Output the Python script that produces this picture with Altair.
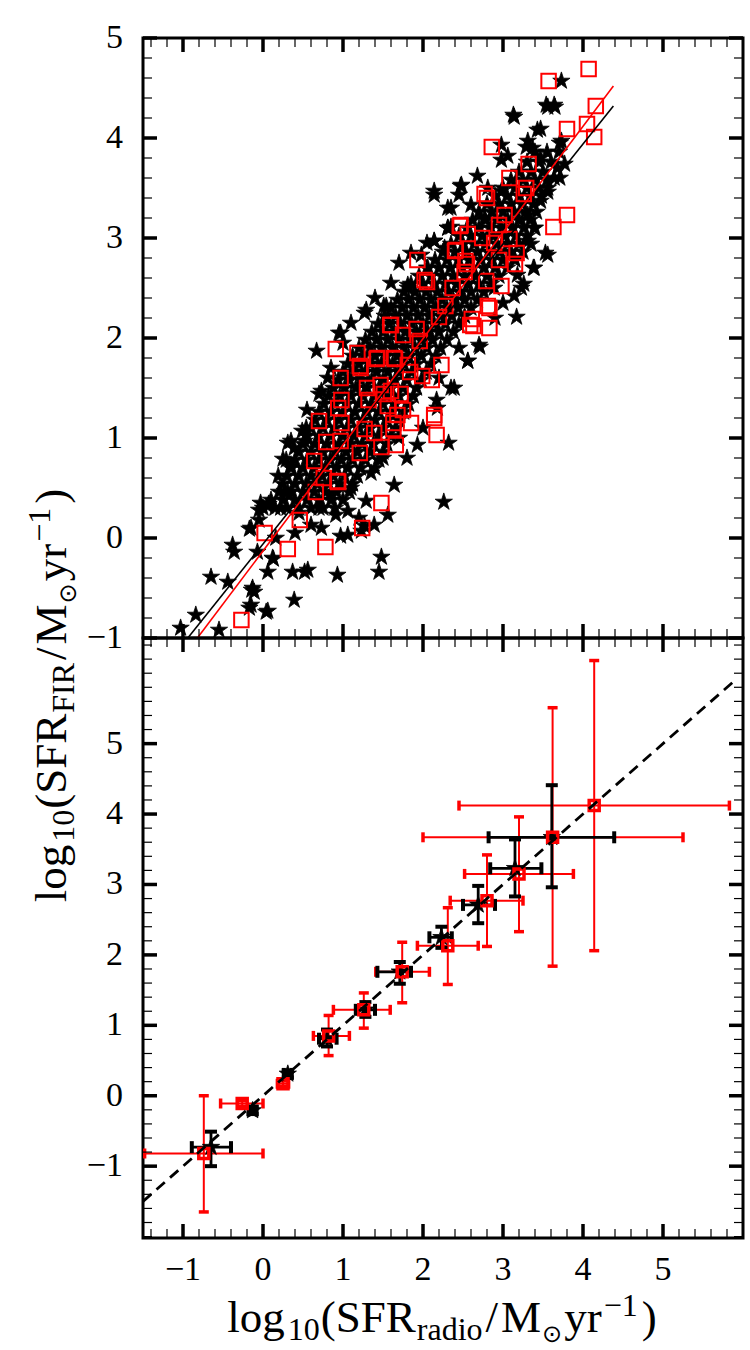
import altair as alt
import pandas as pd
import numpy as np

# ======================= TOP PANEL DATA =======================
# dense core of the star cloud, read row by row (y level : x positions)
core_y = [0.30, 0.38, 0.46, 0.54, 0.62, 0.70, 0.78, 0.86, 0.94, 1.02, 1.10, 1.18, 1.26, 1.34,
          1.42, 1.50, 1.58, 1.66, 1.74, 1.82, 1.90, 1.98, 2.06, 2.14, 2.22, 2.30, 2.38, 2.46,
          2.54, 2.62, 2.70, 2.78, 2.86, 2.94, 3.02, 3.10, 3.18, 3.26, 3.34, 3.42, 3.50, 3.58,
          3.66, 3.76, 3.86]
core_x = [
    [0.15, 0.30, 0.45, 0.60, 0.75, 0.90],
    [0.10, 0.25, 0.40, 0.55, 0.70, 0.85, 1.00],
    [0.20, 0.35, 0.50, 0.64, 0.78, 0.92, 1.08],
    [0.25, 0.40, 0.54, 0.68, 0.82, 0.96, 1.12],
    [0.30, 0.45, 0.60, 0.74, 0.88, 1.02, 1.18],
    [0.35, 0.50, 0.64, 0.78, 0.92, 1.06, 1.22, 1.40],
    [0.40, 0.55, 0.70, 0.84, 0.98, 1.12, 1.28, 1.45],
    [0.45, 0.60, 0.75, 0.90, 1.04, 1.18, 1.34, 1.50],
    [0.50, 0.65, 0.80, 0.95, 1.10, 1.24, 1.38, 1.55],
    [0.55, 0.70, 0.85, 1.00, 1.14, 1.28, 1.44, 1.60],
    [0.60, 0.75, 0.90, 1.05, 1.20, 1.34, 1.50, 1.66],
    [0.65, 0.80, 0.95, 1.10, 1.25, 1.40, 1.55, 1.70],
    [0.70, 0.85, 1.00, 1.15, 1.30, 1.45, 1.60, 1.76],
    [0.76, 0.90, 1.05, 1.20, 1.35, 1.50, 1.65, 1.82],
    [0.82, 0.96, 1.10, 1.25, 1.40, 1.55, 1.70, 1.88],
    [0.88, 1.02, 1.16, 1.30, 1.45, 1.60, 1.75, 1.92],
    [0.94, 1.08, 1.22, 1.36, 1.50, 1.65, 1.80, 1.98],
    [1.00, 1.14, 1.28, 1.42, 1.56, 1.70, 1.86, 2.04],
    [1.06, 1.20, 1.34, 1.48, 1.62, 1.76, 1.92, 2.10],
    [1.12, 1.26, 1.40, 1.54, 1.68, 1.82, 1.98, 2.16],
    [1.20, 1.34, 1.48, 1.62, 1.76, 1.90, 2.05, 2.22],
    [1.28, 1.42, 1.56, 1.70, 1.84, 1.98, 2.12, 2.30],
    [1.36, 1.50, 1.64, 1.78, 1.92, 2.06, 2.20, 2.38],
    [1.44, 1.58, 1.72, 1.86, 2.00, 2.14, 2.28, 2.45],
    [1.52, 1.66, 1.80, 1.94, 2.08, 2.22, 2.36, 2.52],
    [1.60, 1.74, 1.88, 2.02, 2.16, 2.30, 2.44, 2.60],
    [1.68, 1.82, 1.96, 2.10, 2.24, 2.38, 2.52, 2.68],
    [1.76, 1.90, 2.04, 2.18, 2.32, 2.46, 2.60, 2.76],
    [1.85, 2.00, 2.14, 2.28, 2.42, 2.56, 2.70, 2.85],
    [1.95, 2.10, 2.24, 2.38, 2.52, 2.66, 2.80, 2.95],
    [2.05, 2.20, 2.34, 2.48, 2.62, 2.76, 2.90, 3.05],
    [2.15, 2.30, 2.44, 2.58, 2.72, 2.86, 3.00, 3.15],
    [2.25, 2.40, 2.54, 2.68, 2.82, 2.96, 3.10, 3.25],
    [2.35, 2.50, 2.64, 2.78, 2.92, 3.06, 3.20, 3.35],
    [2.45, 2.60, 2.74, 2.88, 3.02, 3.16, 3.30],
    [2.55, 2.70, 2.84, 2.98, 3.12, 3.26, 3.40],
    [2.62, 2.78, 2.92, 3.06, 3.20, 3.34],
    [2.70, 2.86, 3.00, 3.14, 3.28, 3.42],
    [2.80, 2.95, 3.10, 3.24, 3.38],
    [2.90, 3.05, 3.20, 3.34, 3.48],
    [3.00, 3.15, 3.30, 3.45],
    [3.10, 3.25, 3.40, 3.55],
    [3.20, 3.35, 3.50],
    [3.30, 3.45, 3.60],
    [3.40, 3.55, 3.70],
]
# scattered stars around the core
edge_x = [-1.03, -0.84, -0.55, -0.65, -0.44, -0.38, -0.36, -0.13, -0.11, -0.15, 0.06, 0.39, 0.06,
          0.12, 0.37, 0.52, 0.56, 0.93, 1.45, 1.48, -0.07, -0.15, -0.03, 0.06, 0.00, 0.27, 0.22,
          0.35, 0.29, 0.35, 0.52, 0.54, 0.39, 0.97, 1.06, 1.27, 1.39, 1.56, 1.64, 1.29, 1.06, 0.91,
          0.73, 0.60, 0.16, 1.23, 2.26, 2.32, -0.17, 0.04, -0.14, -0.17, -0.05, 0.13, 0.40, 0.45,
          0.70, 0.85, 1.10, 1.35, 1.50, 1.20,
          0.67, 0.97, 1.27, 1.51, 0.70, 0.55, 0.49, 0.31, 0.25, 0.19, 0.31, 0.07, -0.05, 1.00,
          1.10, 0.85, 1.40, 1.60, 1.70, 1.85, 0.95, 1.29, 1.54, 1.81, 2.14, 2.31, 2.14, 2.35, 2.56,
          2.70, 2.39, 2.18, 0.81, 0.73,
          2.71, 2.56, 2.35, 2.17, 1.93, 3.53, 3.38, 3.26, 3.14, 3.17, 2.00, 2.20, 2.45, 2.90, 3.00,
          1.80, 1.70,
          3.73, 3.54, 3.64, 3.13, 3.43, 3.31, 3.37, 3.73, 2.98, 3.06, 3.47, 3.68, 2.68, 2.48, 2.14,
          2.45, 2.81, 2.98, 3.56, 3.64, 2.31, 2.60, 2.77, 3.31, 3.47, 2.31, 2.14, 2.27, 3.39, 3.31,
          3.56, 3.39, 3.18, 3.14, 1.98, 2.06, 1.81, 3.23, 2.89, 3.56, 3.65, 3.14, 3.47, 3.71, 3.29,
          2.98, 3.77, 3.71, 3.56, 2.05, 2.35, 2.47]
edge_y = [-0.90, -0.77, -0.92, -0.39, -0.44, -0.07, -0.14, -0.50, -0.54, -0.67, -0.73, -0.62, -0.34,
          -0.20, -0.34, -0.34, -0.32, -0.37, -0.34, -0.19, -0.14, 0.10, 0.35, 0.32, 0.30, 0.47, 0.30,
          0.72, 0.78, 0.97, 0.97, 1.10, 0.90, 0.02, 0.03, 0.12, 0.13, 0.23, 0.53, 0.37, 0.27, 0.23,
          0.10, 0.13, 0.00, 0.07, 0.36, 0.95, -0.70, -0.74, -0.52, 0.09, 0.18, -0.21, 0.05, 0.25,
          0.30, 0.45, 0.50, 0.65, 0.80, 0.20,
          1.87, 2.05, 2.25, 2.32, 1.44, 1.28, 1.07, 0.95, 0.79, 0.62, 0.46, 0.34, 0.28, 1.95,
          2.15, 1.70, 2.40, 2.55, 2.75, 2.85, 2.05, 2.28, 2.32, 2.53, 2.97, 3.10, 3.43, 3.30, 1.77,
          1.93, 1.50, 1.30, 1.60, 1.47,
          1.91, 1.77, 1.50, 1.38, 0.93, 2.85, 2.70, 2.54, 2.42, 2.21, 1.10, 1.60, 1.90, 2.20, 2.35,
          0.80, 1.00,
          4.57, 4.33, 4.33, 4.23, 4.08, 3.97, 3.90, 3.97, 3.93, 3.82, 3.80, 3.70, 3.62, 3.53, 3.47,
          3.43, 3.50, 3.47, 3.50, 3.60, 3.30, 3.33, 3.20, 3.23, 3.37, 3.10, 2.97, 2.90, 3.10, 2.97,
          2.83, 2.70, 2.63, 2.80, 2.83, 2.70, 2.50, 2.50, 2.50, 4.31, 4.31, 4.21, 4.09, 3.95, 3.91,
          3.78, 3.74, 3.60, 3.46, 2.95, 3.11, 3.52]
# red open squares
sq_x = [4.07, 3.57, 4.16, 3.80, 4.05, 4.14, 2.86, 3.32, 3.08, 3.29, 2.77, 2.80, 3.26, 3.80, 3.63,
        3.02, 2.46, 2.56, 2.95, 2.74, 2.89, 3.08, 3.17, 3.15, 2.95, 2.40, 1.93, 2.55, 2.52, 2.02,
        2.05, 2.79, 2.37, 2.98, 2.28, 2.20, 2.83, 2.61, 2.63, 2.83, 1.59, 1.92, 1.75, 1.96, 0.91,
        1.18, 2.23, 1.42, 1.21, 1.65, 1.84, 1.99, 2.11, 0.97, 1.30, 1.51, 1.72, 0.98, 1.32, 0.94,
        1.56, 1.75, 2.14, 0.70, 0.98, 1.63, 1.85, 1.27, 1.63, 2.17, 0.79, 0.97, 1.39, 1.66, 1.48,
        0.64, 1.21, 0.76, 0.94, 0.66, 1.48, 0.46, 1.24, 0.02, 0.31, 0.78, -0.27,
        2.47, 2.41, 2.53, 2.81, 2.59, 1.60, 1.43, 1.64, 1.22, 1.81, 1.47, 1.68, 2.14, 1.60, 0.93]
sq_y = [4.69, 4.57, 4.32, 4.09, 4.14, 4.01, 3.91, 3.74, 3.60, 3.50, 3.44, 3.40, 3.44, 3.23, 3.11,
        3.23, 3.12, 3.04, 3.13, 3.00, 2.95, 2.99, 2.85, 2.74, 2.78, 2.87, 2.78, 2.74, 2.66, 2.58,
        2.56, 2.57, 2.50, 2.52, 2.32, 2.21, 2.30, 2.19, 2.12, 2.10, 2.13, 2.09, 2.03, 1.97, 1.89,
        1.85, 1.73, 1.79, 1.72, 1.79, 1.66, 1.62, 1.58, 1.60, 1.50, 1.44, 1.44, 1.38, 1.38, 1.30,
        1.32, 1.28, 1.20, 1.17, 1.15, 1.15, 1.15, 1.09, 1.09, 1.03, 0.96, 0.97, 1.05, 0.93, 0.91,
        0.77, 0.85, 0.60, 0.56, 0.46, 0.35, 0.18, 0.10, 0.05, -0.11, -0.09, -0.82,
        3.13, 2.88, 2.77, 2.32, 2.13, 2.13, 1.80, 1.80, 1.70, 1.73, 1.53, 1.23, 1.23, 1.47, 0.57]
# fitted relations (end points)
fit_bk_x = [-0.94, 4.38]
fit_bk_y = [-1.00, 4.32]
fit_rd_x = [-0.82, 4.38]
fit_rd_y = [-1.00, 4.52]

# ======================= BOTTOM PANEL DATA =======================
blk_x = [-0.65, -0.13, 0.31, 0.80, 1.28, 1.71, 2.23, 2.69, 3.15, 3.61]
blk_y = [-0.73, -0.21, 0.31, 0.81, 1.22, 1.76, 2.25, 2.71, 3.23, 3.67]
blk_xlo = [-0.89, -0.18, 0.26, 0.70, 1.16, 1.43, 2.08, 2.50, 2.84, 2.82]
blk_xhi = [-0.40, -0.08, 0.36, 0.92, 1.40, 1.85, 2.36, 2.90, 3.48, 4.39]
blk_ylo = [-1.00, -0.26, 0.26, 0.70, 1.12, 1.59, 2.10, 2.45, 2.83, 2.96]
blk_yhi = [-0.51, -0.16, 0.36, 0.94, 1.33, 1.90, 2.40, 2.98, 3.64, 4.41]
red_x = [-0.74, -0.26, 0.25, 0.82, 1.26, 1.74, 2.31, 2.80, 3.20, 3.62, 4.14]
red_y = [-0.82, -0.11, 0.17, 0.85, 1.22, 1.76, 2.13, 2.77, 3.15, 3.67, 4.12]
red_xlo = [-1.48, -0.53, 0.18, 0.63, 0.88, 1.41, 1.93, 2.34, 2.52, 2.00, 2.45]
red_xhi = [0.00, 0.00, 0.32, 1.08, 1.59, 2.08, 2.69, 3.25, 3.88, 5.25, 5.83]
red_ylo = [-1.65, -0.15, 0.13, 0.57, 0.96, 1.32, 1.58, 2.12, 2.33, 1.84, 2.06]
red_yhi = [0.00, -0.07, 0.21, 1.14, 1.46, 2.18, 2.67, 3.42, 3.96, 5.51, 6.18]
one_x = [-1.5, 5.88]
one_y = [-1.5, 5.88]

# ======================= AXES / TICKS =======================
X_DOM = [-1.5, 6.0]
TOP_DOM = [-1.0, 5.0]
BOT_DOM = [-2.02, 6.5]
MAJ = [-1, 0, 1, 2, 3, 4, 5]
MAJ_LABELS = ["\u22121", "0", "1", "2", "3", "4", "5"]
X_MIN = [float(v) for v in np.round(np.arange(-1.4, 6.0, 0.2), 1) if abs(v - round(v)) > 1e-6]
TOP_MIN = [float(v) for v in np.round(np.arange(-0.8, 5.0, 0.2), 1) if abs(v - round(v)) > 1e-6]
BOT_MIN = [float(v) for v in np.round(np.arange(-2.0, 6.5, 0.2), 1)
           if abs(v - round(v)) > 1e-6 or v in (-2.0, 6.0)]

W, H = 600, 600
SERIF = "Liberation Serif"
STAR = ("M0,-1L0.2245,-0.309L0.951,-0.309L0.363,0.118L0.588,0.809L0,0.382"
        "L-0.588,0.809L-0.363,0.118L-0.951,-0.309L-0.2245,-0.309Z")
LABEL_SIZE = 34

xs = alt.Scale(domain=X_DOM, nice=False, zero=False)
yts = alt.Scale(domain=TOP_DOM, nice=False, zero=False)
ybs = alt.Scale(domain=BOT_DOM, nice=False, zero=False)

one_row = pd.DataFrame({"d": [0]})
lab_df = pd.DataFrame({"v": MAJ, "t": MAJ_LABELS})


def ticks(yscale, ymaj, ymin):
    layers = []
    for vals, L, sw in [(MAJ, 14, 3.5), (X_MIN, 9, 1.2)]:
        base = alt.Chart(pd.DataFrame({"v": vals})).mark_rule(color="black", strokeWidth=sw)
        layers.append(base.encode(x=alt.X("v:Q", scale=xs, axis=None), y=alt.value(H), y2=alt.value(H - L)))
        layers.append(base.encode(x=alt.X("v:Q", scale=xs, axis=None), y=alt.value(0), y2=alt.value(L)))
    for vals, L, sw in [(ymaj, 14, 3.5), (ymin, 9, 1.2)]:
        base = alt.Chart(pd.DataFrame({"v": vals})).mark_rule(color="black", strokeWidth=sw)
        layers.append(base.encode(y=alt.Y("v:Q", scale=yscale, axis=None), x=alt.value(0), x2=alt.value(L)))
        layers.append(base.encode(y=alt.Y("v:Q", scale=yscale, axis=None), x=alt.value(W), x2=alt.value(W - L)))
    return layers


def y_labels(yscale):
    return alt.Chart(lab_df).mark_text(font=SERIF, fontSize=LABEL_SIZE, align="right",
                                       baseline="middle", color="black").encode(
        y=alt.Y("v:Q", scale=yscale, axis=None), x=alt.value(-20), text="t:N")


def x_labels():
    return alt.Chart(lab_df).mark_text(font=SERIF, fontSize=LABEL_SIZE, align="center",
                                       baseline="alphabetic", color="black").encode(
        x=alt.X("v:Q", scale=xs, axis=None), y=alt.value(H + 42), text="t:N")


# ---- composed axis titles (sub/superscripts as separate text pieces)
WID = {"l": .278, "o": .5, "g": .5, "1": .5, "0": .5, "(": .333, ")": .333, "S": .556, "F": .556,
       "R": .667, "r": .333, "a": .444, "d": .5, "i": .278, "/": .278, "M": .889, "y": .5,
       "I": .333, "\u2212": .564, "\u2299": .838}
B, S = 45, 32


def title_pieces(sub):
    # (text, baseline shift, font size, font, gap after)
    return [("log", 0, B, SERIF, 3), ("10", 8, S, SERIF, 1), ("(", 0, B, SERIF, 0),
            ("SFR", 0, B, SERIF, 1), (sub, 8, S, SERIF, 3), ("/", 0, B, SERIF, 3),
            ("M", 0, B, SERIF, 1), ("\u2299", 10, 24, "DejaVu Sans", 2), ("yr", 0, B, SERIF, 2),
            ("\u22121", -16, S, SERIF, 4), (")", 0, B, SERIF, 0)]


def layout(pieces):
    out, pos = [], 0.0
    for txt, sh, sz, f, gap in pieces:
        out.append((txt, pos, sh, sz, f))
        pos += sum(WID[c] for c in txt) * sz + gap
    return out, pos


def text_seg(txt, px, py, size, font=SERIF, angle=0):
    return alt.Chart(one_row).mark_text(text=txt, font=font, fontSize=size, align="left",
                                        baseline="alphabetic", angle=angle, color="black").encode(
        x=alt.value(px), y=alt.value(py))


xt, xlen = layout(title_pieces("radio"))
yt, ylen = layout(title_pieces("FIR"))

# x title: centred on x=441 (canvas), baseline at canvas y=1330
X0 = 441 - 142 - xlen / 2
YB = 1330 - 636.5
xtitle_layers = [text_seg(t, X0 + off, YB + sh, sz, f) for t, off, sh, sz, f in xt]
# y title: centred on canvas y=694, baseline at canvas x=65, reading upwards
Y0 = 694 - 36.5 + ylen / 2
XB = 65 - 142
ytitle_layers = [text_seg(t, XB + sh, Y0 - off, sz, f, angle=270) for t, off, sh, sz, f in yt]

# ======================= TOP PANEL =======================
sx, sy = [], []
for yv, row in zip(core_y, core_x):
    for xv in row:
        sx.append(xv)
        sy.append(yv)
stars_df = pd.DataFrame({"x": sx + edge_x, "y": sy + edge_y})
sq_df = pd.DataFrame({"x": sq_x, "y": sq_y})


def TX(f):
    return alt.X(f, scale=xs, axis=None)


def TY(f):
    return alt.Y(f, scale=yts, axis=None)


stars = alt.Chart(stars_df).mark_point(shape=STAR, filled=True, fill="black", stroke="black",
                                       strokeWidth=0.8, size=330, opacity=1, clip=True).encode(
    x=TX("x:Q"), y=TY("y:Q"))
squares = alt.Chart(sq_df).mark_point(shape="square", filled=False, color="red", strokeWidth=2,
                                      size=210, opacity=1, clip=True).encode(x=TX("x:Q"), y=TY("y:Q"))
fit_bk = alt.Chart(pd.DataFrame({"x": fit_bk_x, "y": fit_bk_y})).mark_line(
    color="black", strokeWidth=1.6, clip=True).encode(x=TX("x:Q"), y=TY("y:Q"))
fit_rd = alt.Chart(pd.DataFrame({"x": fit_rd_x, "y": fit_rd_y})).mark_line(
    color="red", strokeWidth=1.6, clip=True).encode(x=TX("x:Q"), y=TY("y:Q"))

anchor = alt.Chart(one_row).mark_rule(strokeOpacity=0, strokeWidth=0.1).encode(
    x=alt.value(-141.5), x2=alt.value(-130), y=alt.value(-36.5), y2=alt.value(-30))

top = alt.layer(stars, squares, fit_bk, fit_rd, *ticks(yts, MAJ, TOP_MIN), y_labels(yts), anchor,
                *ytitle_layers).properties(width=W, height=H)

# ======================= BOTTOM PANEL =======================
bk_df = pd.DataFrame({"x": blk_x, "y": blk_y, "xlo": blk_xlo, "xhi": blk_xhi, "ylo": blk_ylo, "yhi": blk_yhi})
rd_df = pd.DataFrame({"x": red_x, "y": red_y, "xlo": red_xlo, "xhi": red_xhi, "ylo": red_ylo, "yhi": red_yhi})


def BX(f):
    return alt.X(f, scale=xs, axis=None)


def BY(f):
    return alt.Y(f, scale=ybs, axis=None)


def errbars(df, color, lw, cap_len, cap_w):
    c = alt.Chart(df)
    return [
        c.mark_rule(color=color, strokeWidth=lw, clip=True).encode(x=BX("xlo:Q"), x2="xhi:Q", y=BY("y:Q")),
        c.mark_rule(color=color, strokeWidth=lw, clip=True).encode(x=BX("x:Q"), y=BY("ylo:Q"), y2="yhi:Q"),
        c.mark_tick(color=color, orient="vertical", size=cap_len, thickness=cap_w, opacity=1, clip=True).encode(
            x=BX("xlo:Q"), y=BY("y:Q")),
        c.mark_tick(color=color, orient="vertical", size=cap_len, thickness=cap_w, opacity=1, clip=True).encode(
            x=BX("xhi:Q"), y=BY("y:Q")),
        c.mark_tick(color=color, orient="horizontal", size=cap_len, thickness=cap_w, opacity=1, clip=True).encode(
            x=BX("x:Q"), y=BY("ylo:Q")),
        c.mark_tick(color=color, orient="horizontal", size=cap_len, thickness=cap_w, opacity=1, clip=True).encode(
            x=BX("x:Q"), y=BY("yhi:Q")),
    ]


bk_pts = alt.Chart(bk_df).mark_point(shape=STAR, filled=True, fill="black", stroke="black",
                                     strokeWidth=0.8, size=330, opacity=1).encode(x=BX("x:Q"), y=BY("y:Q"))
rd_pts = alt.Chart(rd_df).mark_point(shape="square", filled=False, color="red", strokeWidth=3.5,
                                     size=100, opacity=1).encode(x=BX("x:Q"), y=BY("y:Q"))
one_line = alt.Chart(pd.DataFrame({"x": one_x, "y": one_y})).mark_line(
    color="black", strokeWidth=2.8, strokeDash=[11, 7], clip=True).encode(x=BX("x:Q"), y=BY("y:Q"))

bottom = alt.layer(*errbars(rd_df, "red", 2, 10, 3.5), *errbars(bk_df, "black", 2.8, 12, 4),
                   bk_pts, rd_pts, one_line, *ticks(ybs, MAJ, BOT_MIN), y_labels(ybs), x_labels(),
                   *xtitle_layers).properties(width=W, height=H)

chart = (alt.vconcat(top, bottom, spacing=0, bounds="flush")
         .properties(padding=0, background="white")
         .configure_view(stroke="black", strokeWidth=3))

chart.save("out.html", embed_options={"renderer": "svg", "actions": False})
